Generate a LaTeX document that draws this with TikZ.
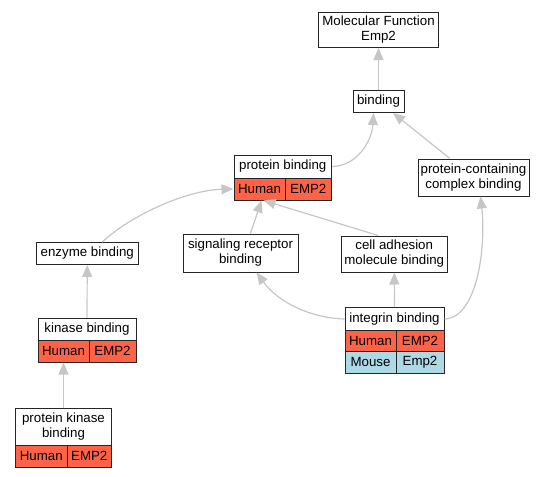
\documentclass[tikz,border=0pt]{standalone}
\usepackage{fontspec}
\setmainfont{Liberation Sans}
\usetikzlibrary{arrows.meta}
\definecolor{hum}{RGB}{255,99,71}
\definecolor{mou}{RGB}{173,216,230}
\definecolor{edgegray}{RGB}{198,198,198}
\tikzset{
  box/.style={draw=black!85, line width=1pt, inner sep=0pt, fill=white,
    font=\fontsize{13.3}{15}\selectfont, align=center},
  hcell/.style={box, fill=hum},
  mcell/.style={box, fill=mou},
  link/.style={draw=edgegray, line width=1.2pt, -{Triangle[length=12pt,width=10pt]}}
}
\begin{document}
\begin{tikzpicture}[x=1pt,y=-1pt]
\useasboundingbox (0,0) rectangle (547,477);
% nodes
\node[box, minimum width=120pt, minimum height=35.5pt] (mf) at (378.5,29.75) {Molecular Function\\Emp2};
\node[box, minimum width=51pt, minimum height=22.5pt] (bind) at (378.5,101.25) {binding};
\node[box, minimum width=97.5pt, minimum height=23pt] (pbt) at (282.75,166.5) {protein binding};
\node[hcell, minimum width=51pt, minimum height=22pt] (pbh) at (259.5,189) {Human};
\node[hcell, minimum width=46.5pt, minimum height=22pt] (pbe) at (308.25,189) {EMP2};
\node[box, minimum width=111pt, minimum height=37pt] (pcc) at (473.5,177.5) {protein-containing\\complex binding};
\node[box, minimum width=101.5pt, minimum height=22pt] (enz) at (87.25,253.5) {enzyme binding};
\node[box, minimum width=115pt, minimum height=38pt] (srb) at (240.5,253) {signaling receptor\\binding};
\node[box, minimum width=106.5pt, minimum height=36pt] (cab) at (394.25,254) {cell adhesion\\molecule binding};
\node[box, minimum width=98pt, minimum height=22.5pt] (kbt) at (87,329.25) {kinase binding};
\node[hcell, minimum width=51pt, minimum height=21.5pt] (kbh) at (63.5,351.25) {Human};
\node[hcell, minimum width=47pt, minimum height=21.5pt] (kbe) at (112.5,351.25) {EMP2};
\node[box, minimum width=99pt, minimum height=23pt] (ibt) at (394.5,319) {integrin binding};
\node[hcell, minimum width=51pt, minimum height=21pt] (ibh) at (370.5,341) {Human};
\node[hcell, minimum width=48pt, minimum height=21pt] (ibe) at (420,341) {EMP2};
\node[mcell, minimum width=51pt, minimum height=21.5pt] (ibm) at (370.5,362.25) {Mouse};
\node[mcell, minimum width=48pt, minimum height=21.5pt] (ibme) at (420,362.25) {Emp2};
\node[box, minimum width=96pt, minimum height=36.5pt] (pkt) at (63.5,426.75) {protein kinase\\binding};
\node[hcell, minimum width=51.5pt, minimum height=22pt] (pkh) at (41.25,456) {Human};
\node[hcell, minimum width=44.5pt, minimum height=22pt] (pke) at (89.25,456) {EMP2};
% edges
\draw[link] (bind) -- (mf);
\draw[link] (pbt.east) .. controls (358,166) and (372,140) .. ([xshift=-5pt]bind.south);
\draw[link] (pcc) -- (bind);
\draw[link] ([xshift=15pt]enz.north) .. controls (135,212) and (190,190) .. (pbh.west);
\draw[link] ([xshift=10pt]srb.north) -- ([xshift=2pt]pbh.south);
\draw[link] ([xshift=-16pt]cab.north) -- ([xshift=4pt]pbh.south);
\draw[link] (kbt) -- (enz);
\draw[link] (pkt) -- (kbh);
\draw[link] (ibt.west) .. controls (310,318) and (278,302) .. ([xshift=16pt]srb.south);
\draw[link] (ibt) -- (cab);
\draw[link] (ibt.east) .. controls (478,318) and (486,245) .. ([xshift=7pt]pcc.south);
\end{tikzpicture}
\end{document}
